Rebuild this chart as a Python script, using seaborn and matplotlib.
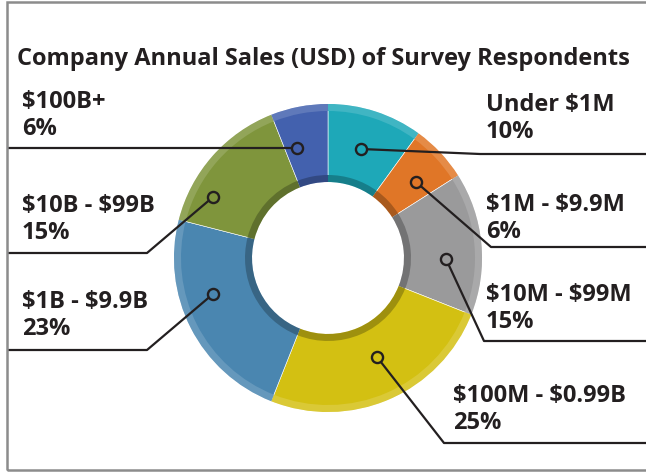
import numpy as np
import matplotlib
matplotlib.use("Agg")
import matplotlib.pyplot as plt
from matplotlib.patches import Rectangle
import seaborn as sns

# data, clockwise from 12 o'clock
categories = ["Under $1M", "$1M - $9.9M", "$10M - $99M", "$100M - $0.99B",
              "$1B - $9.9B", "$10B - $99B", "$100B+"]
shares = [10, 6, 15, 25, 23, 15, 6]
colors = ["#1ea8b8", "#e07627", "#9a9a9b", "#d3c012",
          "#4a86b0", "#7f953c", "#4361ae"]
title = "Company Annual Sales (USD) of Survey Respondents"

sns.set_theme(style="white")
plt.rcParams["font.family"] = ["Open Sans", "DejaVu Sans"]

W, H = 646, 472
fig = plt.figure(figsize=(W / 100, H / 100), dpi=100)
ax = fig.add_axes([0, 0, 1, 1])

def fy(y):
    # pixel row -> data y
    return H - y

cx, cy = 328, fy(258)
R_out, R_in = 154, 76
ring = 7

def shade(c, f):
    rgb = np.array(matplotlib.colors.to_rgb(c))
    if f > 0:
        return tuple(rgb + (1 - rgb) * f)
    return tuple(rgb * (1 + f))

pie_kw = dict(startangle=90, counterclock=False, center=(cx, cy))
wedges, _ = ax.pie(shares, colors=colors, radius=R_out,
                   wedgeprops=dict(width=R_out - R_in, linewidth=0.4, edgecolor="white"),
                   **pie_kw)
# lighter outer rim
ax.pie(shares, colors=[shade(c, 0.15) for c in colors], radius=R_out,
       wedgeprops=dict(width=ring, linewidth=0), **pie_kw)
# darker inner rim
ax.pie(shares, colors=[shade(c, -0.25) for c in colors], radius=R_in + ring,
       wedgeprops=dict(width=ring, linewidth=0), **pie_kw)

ax.set_xlim(0, W)
ax.set_ylim(0, H)
ax.set_aspect("equal")
ax.axis("off")

# leader layout: marker (px), elbow (px), line end x, label x, label baseline y
leaders = {
    "Under $1M":      ((361, 149), (480, 154), W, 486, 111),
    "$1M - $9.9M":    ((416, 182), (491, 247), W, 486, 211),
    "$10M - $99M":    ((446, 259), (484, 341), W, 486, 301),
    "$100M - $0.99B": ((377, 357), (444, 443), W, 453, 402),
    "$1B - $9.9B":    ((213, 294), (147, 350), 8, 22, 308),
    "$10B - $99B":    ((213, 197), (147, 253), 8, 22, 212),
    "$100B+":         ((297, 148), (297, 148), 8, 22, 108),
}

line_c = "#231f20"
txt_kw = dict(fontsize=17, fontweight="bold", color="#231f20", ha="left",
              va="baseline", parse_math=False, zorder=7)
for cat, pct, col in zip(categories, shares, colors):
    (mx, my), (ex, ey), endx, tx, ty = leaders[cat]
    ax.plot([mx, ex, endx], [fy(my), fy(ey), fy(ey)], color=line_c,
            lw=1.6, solid_capstyle="butt", zorder=5, clip_on=False)
    ax.plot([mx], [fy(my)], marker="o", ms=8, mfc=col, mec=line_c,
            mew=1.7, zorder=6)
    ax.text(tx, fy(ty), cat, **txt_kw)
    ax.text(tx, fy(ty + 27), f"{pct}%", **txt_kw)

ax.text(17, fy(65), title, **txt_kw)

ax.add_patch(Rectangle((7, fy(470)), W, 468, fill=False,
                       edgecolor="#8c8c8c", lw=1.8, zorder=10, clip_on=True))

fig.savefig("out.png", dpi=100)
